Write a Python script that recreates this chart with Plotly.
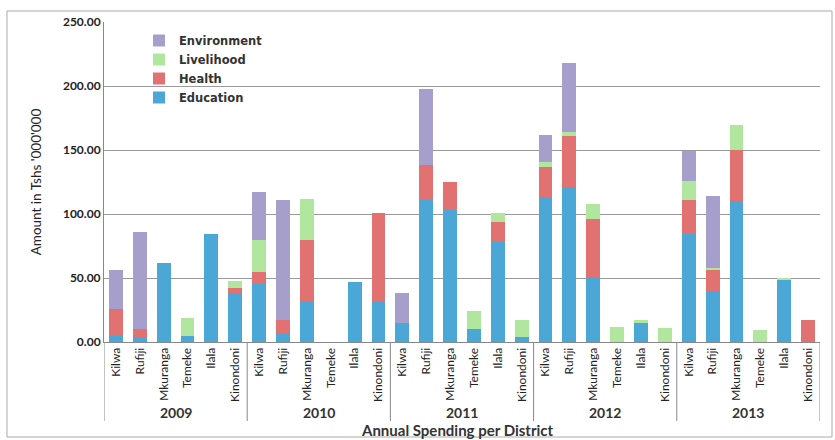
import plotly.graph_objects as go

districts = ["Kilwa", "Rufiji", "Mkuranga", "Temeke", "Ilala", "Kinondoni"]
years = ["2009", "2010", "2011", "2012", "2013"]

education = [5, 4, 62, 5, 84, 38,
             45, 7, 32, 0, 47, 31,
             15, 111, 103, 10, 79, 4,
             113, 121, 51, 0, 15, 0,
             84, 40, 110, 0, 48.5, 0]
health = [21, 6, 0, 0, 0, 4,
          10, 10, 48, 0, 0, 70,
          0, 27, 22, 0, 15, 0,
          24, 40, 45, 0, 0, 0,
          27, 17, 40, 0, 0, 17]
livelihood = [0, 0, 0, 14, 0, 6,
              25, 0, 32, 0, 0, 0,
              0, 0, 0, 14, 6.5, 13,
              4, 3, 12, 12, 2.5, 11,
              15, 1, 19.5, 9, 1.5, 0]
environment = [30, 76, 0, 0, 0, 0,
               37, 94, 0, 0, 0, 0,
               23, 60, 0, 0, 0, 0,
               21, 54, 0, 0, 0, 0,
               23, 56, 0, 0, 0, 0]

nd = len(districts)
x_dist = [d for _ in years for d in districts]
xpos = list(range(len(x_dist)))

series = [("Education", education, "#4ba8d6"),
          ("Health", health, "#e27272"),
          ("Livelihood", livelihood, "#b0e69e"),
          ("Environment", environment, "#a79fcb")]

fig = go.Figure()
for name, vals, col in series:
    fig.add_trace(go.Bar(x=xpos, y=vals, name=name,
                         marker=dict(color=col, line=dict(width=0))))

W, H = 835, 440
L, R, T, B = 104, 15, 22, 98
pw = W - L - R
ph = H - T - B

def px(xp):
    return (xp - L) / pw

def py(yp):
    return (H - B - yp) / ph

shapes = [dict(type="rect", xref="paper", yref="paper",
               x0=px(7), x1=px(832), y0=py(437), y1=py(11),
               line=dict(color="#aaa", width=1))]
for k in range(len(years) + 1):
    xd = k * nd - 0.5
    shapes.append(dict(type="line", xref="x", yref="paper", x0=xd, x1=xd,
                       y0=0, y1=py(421), line=dict(color="#888", width=1)))

annotations = []
for k, yr in enumerate(years):
    annotations.append(dict(x=k * nd + (nd - 1) / 2, y=py(412), xref="x", yref="paper",
                            text=yr, showarrow=False, yanchor="middle",
                            font=dict(size=14, weight="bold", color="#333")))
annotations.append(dict(x=px(457), y=py(430), xref="paper", yref="paper",
                        text="Annual Spending per District", showarrow=False, yanchor="middle",
                        font=dict(size=15, weight="bold", color="#333")))

fig.update_layout(
    width=W, height=H,
    margin=dict(l=L, r=R, t=T, b=B),
    barmode="stack", bargap=0.42,
    paper_bgcolor="white", plot_bgcolor="white",
    font=dict(family="Lato, Open Sans, sans-serif", color="#2a2a2a"),
    legend=dict(traceorder="reversed", x=px(139), y=py(26), xanchor="left", yanchor="top",
                font=dict(family="DejaVu Sans", size=11.5, weight="bold", color="#333"),
                bgcolor="rgba(0,0,0,0)", itemwidth=30, tracegroupgap=0),
    showlegend=True,
    xaxis=dict(tickmode="array", tickvals=xpos, ticktext=x_dist, tickangle=-90,
               range=[-0.5, len(x_dist) - 0.5],
               tickfont=dict(size=12, color="#222"), ticks="",
               showline=True, linecolor="#888", linewidth=1, automargin=False),
    yaxis=dict(range=[0, 250], dtick=50, tickformat=".2f",
               tickfont=dict(size=12, weight="bold", color="#222"),
               showgrid=True, gridcolor="#9a9a9a", gridwidth=1,
               showline=True, linecolor="#888", linewidth=1, automargin=False,
               title=dict(text="Amount in Tshs '000'000", font=dict(size=13.5, color="#222"), standoff=18)),
    shapes=shapes,
    annotations=annotations,
)

fig.write_html("out.html")
